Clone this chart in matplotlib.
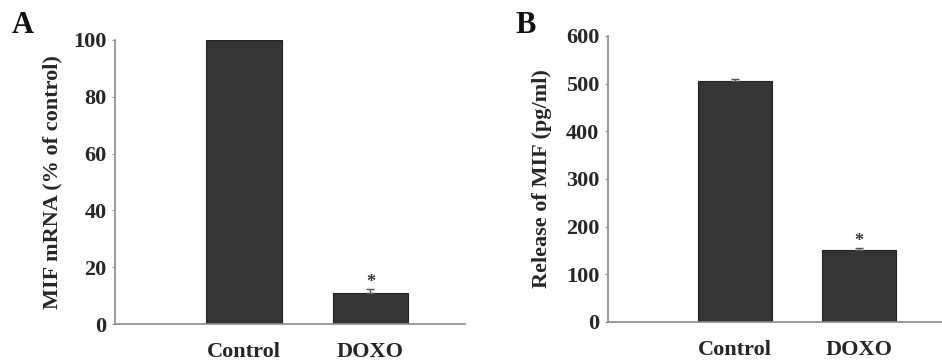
import numpy as np
import matplotlib.pyplot as plt

plt.rcParams['font.family'] = ['Liberation Serif', 'DejaVu Serif']
plt.rcParams['font.weight'] = 'bold'

groups = ['Control', 'DOXO']
mrna = [100, 11]
mrna_err = [0, 1.3]
release = [506, 152]
release_err = [3, 3]

bar_color = '#353535'
axis_color = '#8a8a8a'

fig = plt.figure(figsize=(9.42, 3.63), dpi=100)
ax1 = fig.add_axes([0.122, 0.107, 0.372, 0.783])
ax2 = fig.add_axes([0.645, 0.113, 0.355, 0.788])

x = np.arange(len(groups))


def style(ax, ylim, step, xlim):
    ax.set_ylim(*ylim)
    ax.set_yticks(np.arange(ylim[0], ylim[1] + 1, step))
    ax.set_xlim(*xlim)
    ax.set_xticks(x)
    ax.set_xticklabels(groups)
    for s in ['top', 'right']:
        ax.spines[s].set_visible(False)
    for s in ['left', 'bottom']:
        ax.spines[s].set_color(axis_color)
        ax.spines[s].set_linewidth(1.2)
    ax.tick_params(axis='y', length=2, color=axis_color, labelsize=16, pad=4)
    ax.tick_params(axis='x', length=0, labelsize=16, pad=13)
    for lab in ax.get_xticklabels() + ax.get_yticklabels():
        lab.set_fontweight('bold')
        lab.set_color('#262626')


# panel A
ax1.bar(x, mrna, width=0.6, color=bar_color, edgecolor='#222222', linewidth=0.8)
ax1.errorbar(x[1], mrna[1], yerr=[[0], [mrna_err[1]]], fmt='none', ecolor='#555555',
             capsize=3, elinewidth=1)
ax1.text(x[1], mrna[1] + mrna_err[1] - 0.5, '*', ha='center', va='bottom',
         fontsize=13, fontweight='bold', color='#333333')
style(ax1, (0, 100), 20, (-1.02, 1.75))
ax1.set_ylabel('MIF mRNA (% of control)', fontsize=16, fontweight='bold',
               color='#262626', labelpad=8)
fig.text(0.013, 0.909, 'A', fontsize=22, fontweight='bold', color='#111111',
         va='baseline')

# panel B
ax2.bar(x, release, width=0.6, color=bar_color, edgecolor='#222222', linewidth=0.8)
ax2.errorbar(x, release, yerr=[[0, 0], release_err], fmt='none', ecolor='#555555',
             capsize=3, elinewidth=1)
ax2.text(x[1], release[1] + release_err[1] - 3, '*', ha='center', va='bottom',
         fontsize=13, fontweight='bold', color='#333333')
style(ax2, (0, 600), 100, (-1.03, 1.67))
ax2.set_ylabel('Release of MIF (pg/ml)', fontsize=16, fontweight='bold',
               color='#262626', labelpad=10)
fig.text(0.547, 0.909, 'B', fontsize=22, fontweight='bold', color='#111111',
         va='baseline')

fig.savefig('out.png', dpi=100)
